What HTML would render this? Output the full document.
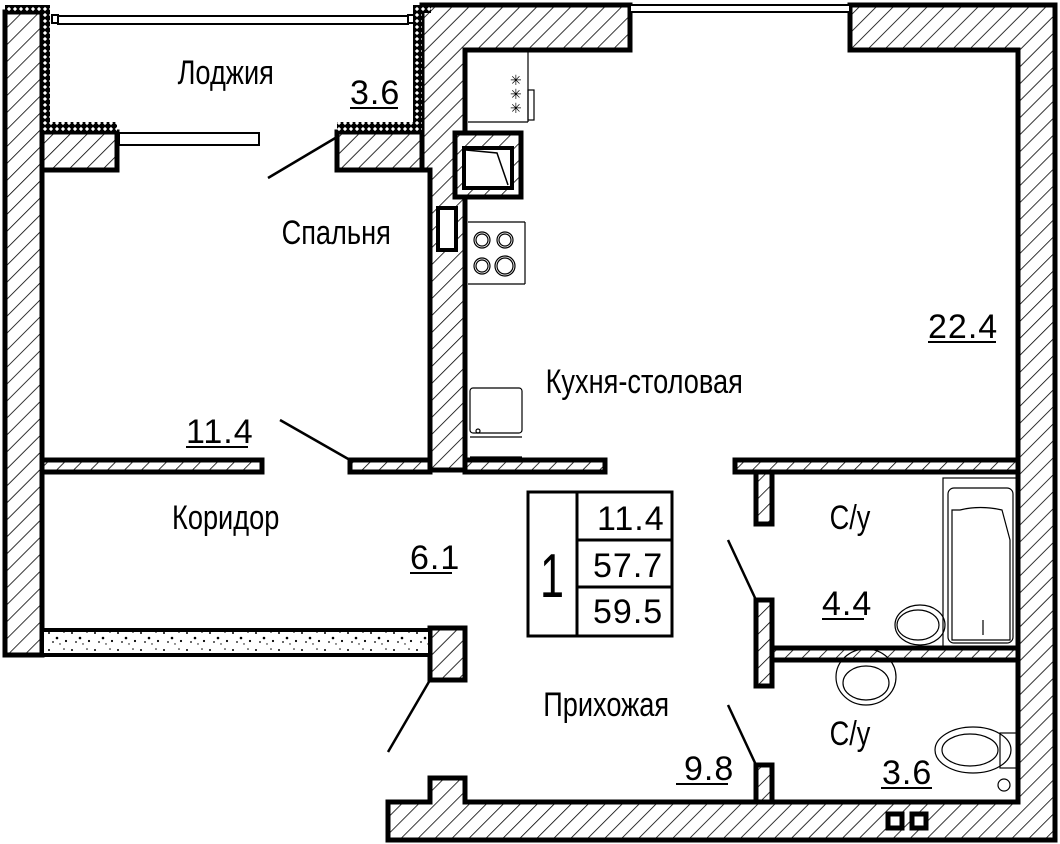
<!DOCTYPE html>
<html><head><meta charset="utf-8"><style>
html,body{margin:0;padding:0;background:#fff;}
svg{display:block;}
text{font-family:"Liberation Sans",sans-serif;fill:#000;}
</style></head><body>
<svg width="1060" height="844" viewBox="0 0 1060 844" xmlns="http://www.w3.org/2000/svg">
<defs>
<pattern id="h" patternUnits="userSpaceOnUse" width="12" height="12" patternTransform="rotate(45)">
<rect width="12" height="12" fill="#fff"/><line x1="0" y1="0" x2="0" y2="12" stroke="#000" stroke-width="1.6"/>
</pattern>
<pattern id="c" patternUnits="userSpaceOnUse" width="6" height="6">
<rect width="6" height="6" fill="#000"/><rect x="1.5" y="1.5" width="3" height="3" fill="#fff" transform="rotate(45 3 3)"/>
</pattern>
<pattern id="g" patternUnits="userSpaceOnUse" width="23" height="17">
<rect width="23" height="17" fill="#fff"/>
<circle cx="3" cy="4" r="1" fill="#000"/><circle cx="11" cy="9" r="1.3" fill="#000"/><circle cx="18" cy="3" r="0.8" fill="#000"/><circle cx="7" cy="13" r="0.9" fill="#000"/><circle cx="20" cy="12" r="1.1" fill="#000"/><circle cx="14" cy="15" r="0.7" fill="#000"/>
</pattern>
</defs>
<g stroke="#000" stroke-width="5" fill="url(#h)">
<rect x="5" y="12" width="37" height="643"/>
<rect x="42" y="132" width="75" height="38"/>
<rect x="337" y="132" width="93" height="38"/>
<path d="M422 5 H630 V50 H465 V470 H430 V170 H422 Z"/>
<path d="M850 5 H1055 V840 H388 V802 H430 V778 H465 V802 H1018 V50 H850 Z"/>
<rect x="42" y="460" width="220" height="12"/>
<rect x="350" y="460" width="80" height="12"/>
<rect x="465" y="460" width="140" height="12"/>
<rect x="735" y="460" width="283" height="12"/>
<rect x="756" y="472" width="16" height="52"/>
<rect x="756" y="600" width="16" height="86"/>
<rect x="772" y="648" width="246" height="12"/>
<rect x="756" y="765" width="16" height="37"/>
<rect x="430" y="628" width="35" height="52"/>
</g>
<rect x="42" y="630" width="388" height="25" fill="url(#g)" stroke="#000" stroke-width="4"/>
<g fill="url(#c)">
<rect x="5" y="5" width="45" height="8"/>
<rect x="42" y="5" width="8" height="125"/>
<rect x="42" y="122" width="75" height="9"/>
<rect x="413" y="5" width="9" height="125"/>
<rect x="337" y="122" width="85" height="9"/>
<rect x="413" y="5" width="18" height="8"/>
</g>
<g fill="#fff" stroke="#000" stroke-width="2">
<rect x="58" y="16" width="350" height="8"/>
<rect x="52" y="15" width="6" height="8"/><rect x="408" y="15" width="6" height="8"/>
<rect x="119" y="133" width="140" height="12"/>
<rect x="630" y="5" width="220" height="7"/>
</g>
<g stroke="#000" stroke-width="2.5">
<line x1="268" y1="178" x2="337" y2="137"/>
<line x1="280" y1="420" x2="350" y2="460"/>
<line x1="728" y1="540" x2="756" y2="600"/>
<line x1="728" y1="705" x2="756" y2="765"/>
<line x1="430" y1="680" x2="388" y2="752"/>
</g>
<rect x="455" y="133" width="66" height="64" fill="url(#h)" stroke="#000" stroke-width="5"/>
<rect x="464" y="148" width="48" height="40" fill="#fff" stroke="#000" stroke-width="4"/>
<path d="M466 150 L497 153 L508 185" fill="none" stroke="#000" stroke-width="1.5"/>
<rect x="438" y="208" width="18" height="42" fill="#fff" stroke="#000" stroke-width="4"/>
<g fill="none" stroke="#000" stroke-width="1.2">
<line x1="468" y1="122" x2="528" y2="122"/>
<line x1="528" y1="52" x2="528" y2="122"/>
<rect x="528" y="90" width="6" height="30"/>
<line x1="468" y1="222" x2="525" y2="222"/>
<line x1="468" y1="284" x2="525" y2="284"/>
<line x1="525" y1="222" x2="525" y2="284"/>
<circle cx="482" cy="240" r="8"/><circle cx="482" cy="240" r="6"/>
<circle cx="505" cy="240" r="8"/><circle cx="505" cy="240" r="6"/>
<circle cx="482" cy="266" r="8"/><circle cx="482" cy="266" r="6"/>
<circle cx="505" cy="266" r="10"/><circle cx="505" cy="266" r="8"/>
<rect x="470" y="388" width="52" height="45" rx="3"/>
<line x1="470" y1="437" x2="522" y2="437"/>
<line x1="470" y1="457" x2="522" y2="457"/>
<circle cx="478" cy="431" r="2"/>
</g>
<text x="510" y="85" font-size="14">✳</text><text x="510" y="99" font-size="14">✳</text><text x="510" y="113" font-size="14">✳</text>
<g fill="none" stroke="#000" stroke-width="1.2">
<rect x="943" y="478" width="75" height="170"/>
<rect x="948" y="488" width="65" height="155" rx="6"/>
<path d="M952 510 L960 510 Q980 505 1002 510 L1010 540 L1010 640 L952 640 L952 540 Z"/>
<ellipse cx="920" cy="625" rx="25" ry="20"/>
<ellipse cx="918" cy="625" rx="21" ry="15"/>
<ellipse cx="866" cy="677" rx="30" ry="28"/>
<ellipse cx="866" cy="683" rx="23" ry="17"/>
<ellipse cx="973" cy="750" rx="38" ry="23"/>
<ellipse cx="970" cy="750" rx="28" ry="16"/>
<rect x="1000" y="733" width="18" height="35"/>
<circle cx="1004" cy="785" r="6"/>
<line x1="983" y1="620" x2="983" y2="635"/>
</g>
<rect x="888" y="814" width="14" height="14" fill="#fff" stroke="#000" stroke-width="5"/>
<rect x="912" y="814" width="14" height="14" fill="#fff" stroke="#000" stroke-width="5"/>
<g fill="none" stroke="#000" stroke-width="3">
<rect x="528" y="492" width="144" height="144"/>
<line x1="577" y1="492" x2="577" y2="636"/>
<line x1="577" y1="540" x2="672" y2="540"/>
<line x1="577" y1="587" x2="672" y2="587"/>
</g>
<g font-size="34" transform="scale(0.8 1)">
<text x="222" y="84">Лоджия</text>
<text x="352" y="244">Спальня</text>
<text x="215" y="529">Коридор</text>
<text x="682" y="393">Кухня-столовая</text>
<text x="679" y="716">Прихожая</text>
<text x="1037" y="529">С/у</text>
<text x="1037" y="745">С/у</text>
</g>
<g font-size="34" letter-spacing="1">
<text x="350" y="104">3.6</text>
<text x="186" y="443">11.4</text>
<text x="410" y="569">6.1</text>
<text x="928" y="338">22.4</text>
<text x="822" y="615">4.4</text>
<text x="684" y="780">9.8</text>
<text x="882" y="784">3.6</text>
</g>
<g font-size="34" letter-spacing="1">
<text x="597" y="530">11.4</text>
<text x="593" y="577">57.7</text>
<text x="593" y="623">59.5</text>
</g>
<text x="540" y="597" font-size="62" textLength="24" lengthAdjust="spacingAndGlyphs">1</text>
<g stroke="#000" stroke-width="2">
<line x1="350" y1="108" x2="398" y2="108"/>
<line x1="186" y1="447" x2="248" y2="447"/>
<line x1="410" y1="573" x2="452" y2="573"/>
<line x1="928" y1="342" x2="996" y2="342"/>
<line x1="822" y1="619" x2="864" y2="619"/>
<line x1="676" y1="784" x2="728" y2="784"/>
<line x1="881" y1="788" x2="932" y2="788"/>
</g>
</svg>
</body></html>
